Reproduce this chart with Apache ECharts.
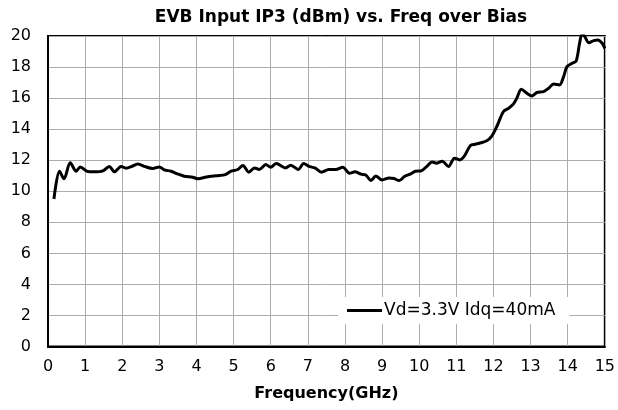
<!DOCTYPE html>
<html>
<head>
<meta charset="utf-8">
<script src="https://cdn.jsdelivr.net/npm/echarts@6/dist/echarts.min.js"></script>
<style>
  html, body { margin: 0; padding: 0; background: #fff; }
  #chart { width: 618px; height: 410px; }
</style>
</head>
<body>
<div id="chart"></div>
<script>
// frequency (GHz)
const freq = [0.16, 0.31, 0.43, 0.6, 0.76, 0.87, 1.07, 1.25, 1.48, 1.65, 1.79, 1.97, 2.1, 2.26, 2.42, 2.6, 2.82, 3.0, 3.13, 3.31,
  3.49, 3.67, 3.9, 4.04, 4.27, 4.53, 4.78, 4.93, 5.11, 5.25, 5.41, 5.56, 5.69, 5.87, 6.0, 6.15, 6.4, 6.54, 6.74, 6.89,
  7.03, 7.19, 7.37, 7.56, 7.75, 7.94, 8.12, 8.27, 8.43, 8.56, 8.7, 8.83, 9.0, 9.19, 9.32, 9.46, 9.61, 9.77, 9.9, 10.05,
  10.2, 10.35, 10.46, 10.62, 10.79, 10.95, 11.09, 11.21, 11.38, 11.51, 11.66, 11.82, 11.95, 12.09, 12.27, 12.41, 12.54, 12.63, 12.75, 12.9,
  13.04, 13.17, 13.35, 13.49, 13.62, 13.78, 13.89, 13.98, 14.12, 14.23, 14.32, 14.39, 14.46, 14.57, 14.7, 14.81, 14.93, 15.0];
// input IP3 (dBm), Vd=3.3V Idq=40mA
const ip3 = [9.5, 11.29, 10.8, 11.83, 11.29, 11.57, 11.27, 11.25, 11.31, 11.6, 11.25, 11.6, 11.48, 11.6, 11.76, 11.6, 11.46, 11.57, 11.38, 11.29,
  11.12, 10.97, 10.9, 10.8, 10.92, 11.0, 11.07, 11.29, 11.4, 11.66, 11.23, 11.5, 11.4, 11.72, 11.55, 11.78, 11.5, 11.68, 11.4, 11.78,
  11.6, 11.5, 11.23, 11.4, 11.4, 11.55, 11.16, 11.25, 11.1, 11.05, 10.69, 10.99, 10.73, 10.86, 10.82, 10.69, 10.97, 11.12, 11.29, 11.31,
  11.59, 11.89, 11.81, 11.94, 11.59, 12.13, 12.02, 12.24, 12.95, 13.03, 13.12, 13.25, 13.53, 14.17, 15.14, 15.35, 15.63, 15.99, 16.57, 16.31,
  16.14, 16.36, 16.42, 16.64, 16.91, 16.85, 17.39, 18.03, 18.24, 18.41, 19.53, 20.15, 19.96, 19.57, 19.7, 19.74, 19.53, 19.2];

const seriesName = 'Vd=3.3V Idq=40mA';
const xTicks = { min: 0, max: 15, step: 1 };
const yTicks = { min: 0, max: 20, step: 2 };

const font = 'DejaVu Sans';

let chart = echarts.init(document.getElementById('chart'));

let option = {
  animation: false,
  backgroundColor: '#fff',
  title: {
    text: 'EVB Input IP3 (dBm) vs. Freq over Bias',
    left: 336,
    top: 4,
    textAlign: 'center',
    textStyle: {
      fontFamily: font,
      fontWeight: 'bold',
      fontSize: 17,
      color: '#000',
    },
  },
  grid: {
    left: 48,
    right: 9.5,
    top: 36,
    bottom: 63.5,
    show: true,
    borderColor: '#000',
    borderWidth: 2,
    containLabel: false,
  },
  legend: {
    left: 338,
    top: 297,
    padding: [5, 14, 5, 9],
    backgroundColor: '#fff',
    icon: 'rect', // plain line, no marker
    itemWidth: 35,
    itemHeight: 3,
    itemStyle: { color: '#000', borderWidth: 0 },
    textStyle: {
      fontFamily: font,
      fontSize: 17,
      color: '#000',
      padding: [0, 0, 0, -3],
    },
    data: [seriesName],
  },
  xAxis: {
    type: 'value',
    min: xTicks.min,
    max: xTicks.max,
    interval: xTicks.step,
    name: 'Frequency(GHz)',
    nameLocation: 'middle',
    nameGap: 39,
    nameTextStyle: {
      fontFamily: font,
      fontWeight: 'bold',
      fontSize: 16,
      color: '#000',
    },
    axisLine: { lineStyle: { color: '#000', width: 2 } },
    axisTick: { show: false },
    axisLabel: {
      margin: 12,
      fontFamily: font,
      fontSize: 16,
      color: '#000',
    },
    splitLine: { lineStyle: { color: '#acacac', width: 1 } },
  },
  yAxis: {
    type: 'value',
    min: yTicks.min,
    max: yTicks.max,
    interval: yTicks.step,
    axisLine: { show: true, lineStyle: { color: '#000', width: 2 } },
    axisTick: { show: false },
    axisLabel: {
      margin: 17,
      fontFamily: font,
      fontSize: 16,
      color: '#000',
    },
    splitLine: { lineStyle: { color: '#acacac', width: 1 } },
  },
  series: [
    {
      name: seriesName,
      type: 'line',
      data: freq.map((f, i) => [f, ip3[i]]),
      symbol: 'none',
      smooth: 0.3,
      lineStyle: { color: '#000', width: 3 },
      itemStyle: { color: '#000' },
      z: 3,
    },
  ],
};

chart.setOption(option, true);
window.addEventListener('resize', function () {
  chart.resize();
});
</script>
</body>
</html>
